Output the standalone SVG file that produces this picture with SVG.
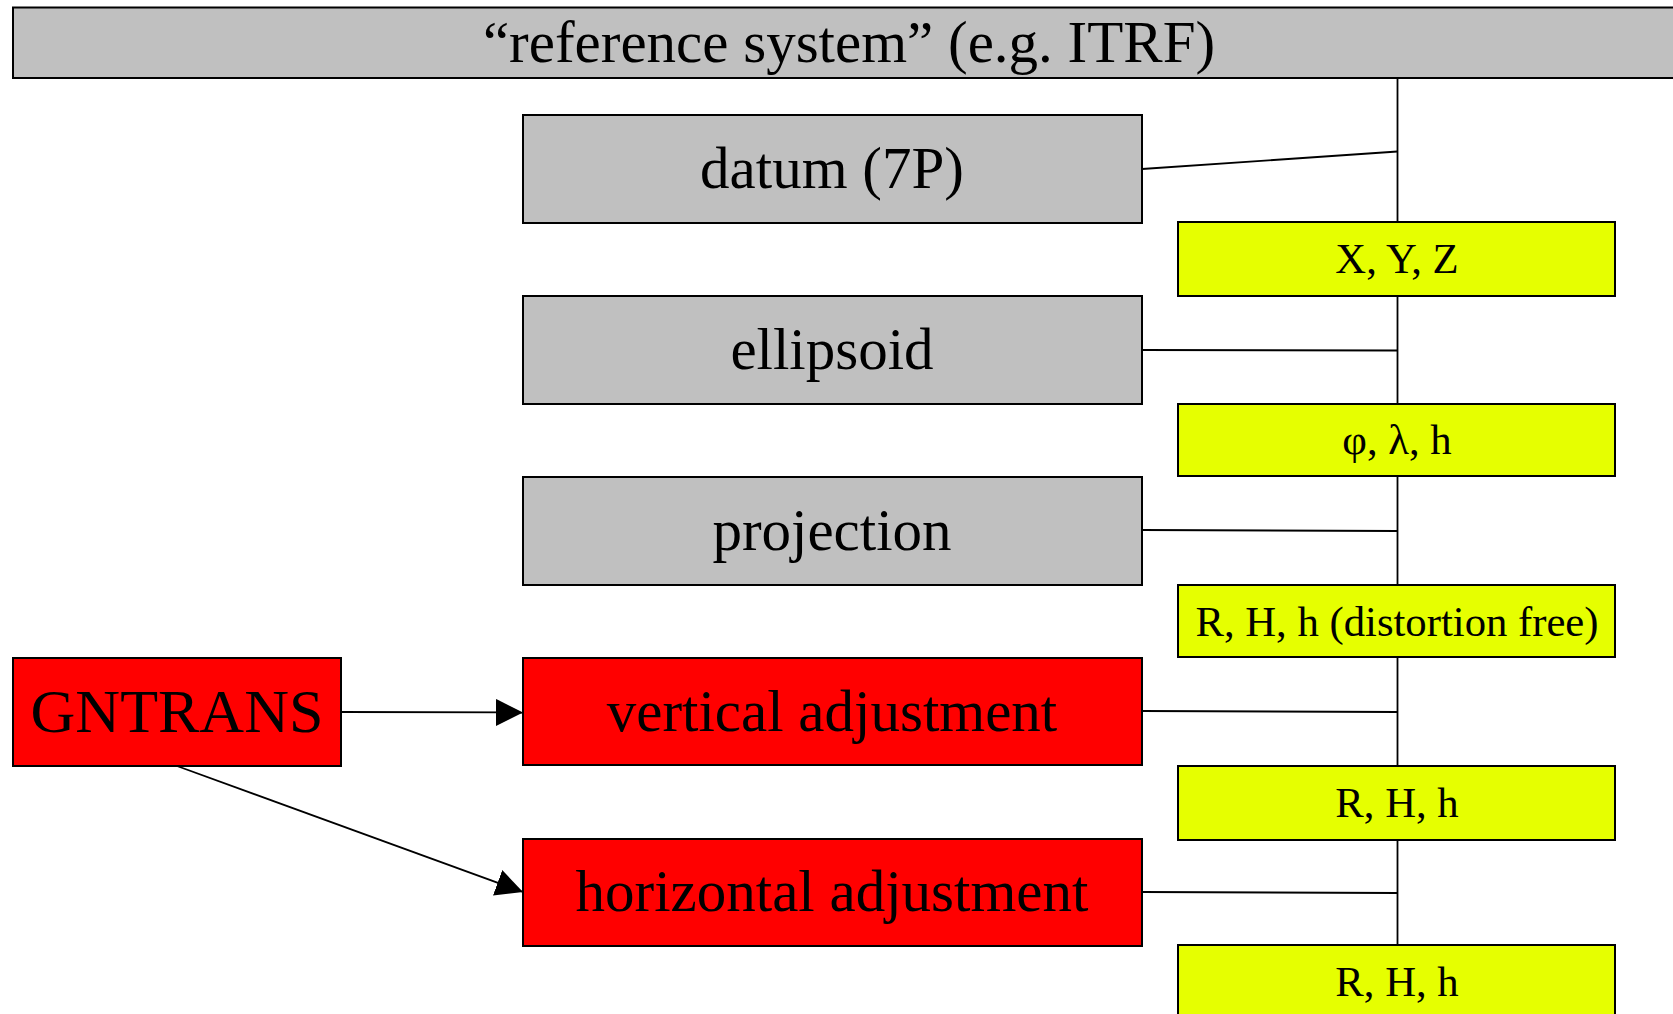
<svg xmlns="http://www.w3.org/2000/svg" width="1673" height="1014" viewBox="0 0 1673 1014">
<style>
.box{stroke:#000;stroke-width:2}
.gray{fill:#c0c0c0}
.yel{fill:#e6ff00}
.red{fill:#ff0000}
.big{font-family:"Liberation Serif",serif;font-size:59px;fill:#000;text-anchor:middle}
.small{font-family:"Liberation Serif",serif;font-size:42.7px;fill:#000;text-anchor:middle}
.ln{stroke:#000;stroke-width:1.8;fill:none}
</style>
<defs>
<marker id="arr" viewBox="0 0 10 10" refX="10" refY="5" markerWidth="27" markerHeight="27" markerUnits="userSpaceOnUse" orient="auto">
<path d="M0,0 L10,5 L0,10 Z" fill="#000"/>
</marker>
</defs>
<g id="connectors">
<line class="ln" x1="1397.5" y1="78" x2="1397.5" y2="222"/>
<line class="ln" x1="1142" y1="169" x2="1397.5" y2="151.5"/>
<line class="ln" x1="1397.5" y1="296" x2="1397.5" y2="404"/>
<line class="ln" x1="1142" y1="350" x2="1397.5" y2="350.5"/>
<line class="ln" x1="1397.5" y1="476" x2="1397.5" y2="585"/>
<line class="ln" x1="1142" y1="530" x2="1397.5" y2="531"/>
<line class="ln" x1="1397.5" y1="657" x2="1397.5" y2="766"/>
<line class="ln" x1="1142" y1="711" x2="1397.5" y2="712"/>
<line class="ln" x1="1397.5" y1="840" x2="1397.5" y2="945"/>
<line class="ln" x1="1142" y1="892" x2="1397.5" y2="893"/>
<line class="ln" x1="341" y1="712" x2="523" y2="712.5" marker-end="url(#arr)"/>
<line class="ln" x1="177" y1="766" x2="523" y2="892" marker-end="url(#arr)"/>
</g>
<g id="reference-system">
<rect class="box gray" x="13" y="7.5" width="1690" height="70.5"/>
<text class="big" x="849" y="62">“reference system” (e.g. ITRF)</text>
</g>
<g id="datum">
<rect class="box gray" x="523" y="115" width="619" height="108"/>
<text class="big" x="832" y="188">datum (7P)</text>
</g>
<g id="ellipsoid">
<rect class="box gray" x="523" y="296" width="619" height="108"/>
<text class="big" x="832" y="369">ellipsoid</text>
</g>
<g id="projection">
<rect class="box gray" x="523" y="477" width="619" height="108"/>
<text class="big" x="832" y="550">projection</text>
</g>
<g id="vertical-adjustment">
<rect class="box red" x="523" y="658" width="619" height="107"/>
<text class="big" x="832" y="731">vertical adjustment</text>
</g>
<g id="horizontal-adjustment">
<rect class="box red" x="523" y="839" width="619" height="107"/>
<text class="big" x="832" y="911">horizontal adjustment</text>
</g>
<g id="gntrans">
<rect class="box red" x="13" y="658" width="328" height="108"/>
<text class="big" x="177" y="732" style="font-size:62px">GNTRANS</text>
</g>
<g id="xyz">
<rect class="box yel" x="1178" y="222" width="437" height="74"/>
<text class="small" x="1397" y="273">X, Y, Z</text>
</g>
<g id="philambdah">
<rect class="box yel" x="1178" y="404" width="437" height="72"/>
<text class="small" x="1397" y="454">φ, λ, h</text>
</g>
<g id="rhh-distortion-free">
<rect class="box yel" x="1178" y="585" width="437" height="72"/>
<text class="small" x="1397" y="636">R, H, h (distortion free)</text>
</g>
<g id="rhh-1">
<rect class="box yel" x="1178" y="766" width="437" height="74"/>
<text class="small" x="1397" y="817">R, H, h</text>
</g>
<g id="rhh-2">
<rect class="box yel" x="1178" y="945" width="437" height="80"/>
<text class="small" x="1397" y="996">R, H, h</text>
</g>
</svg>
